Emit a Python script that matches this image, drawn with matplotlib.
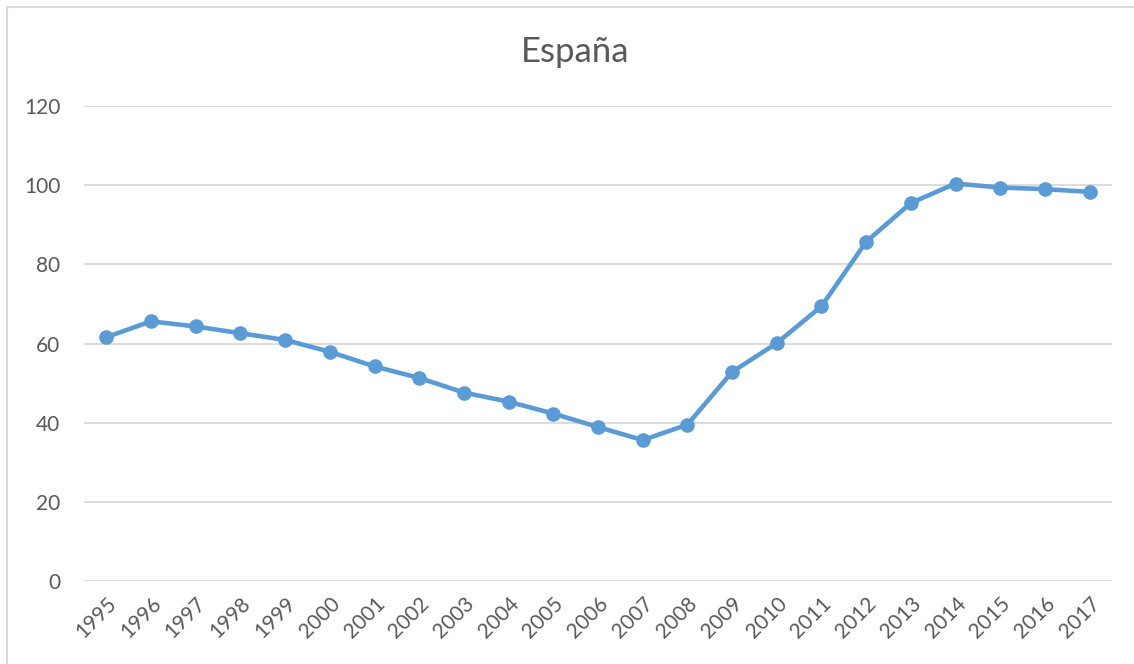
import matplotlib.pyplot as plt
from matplotlib.patches import Rectangle

# Deuda pública (% PIB), España
years = [str(y) for y in range(1995, 2018)]
values = [61.6, 65.6, 64.3, 62.6, 60.9, 57.9, 54.2, 51.3, 47.6, 45.3, 42.3,
          38.9, 35.6, 39.5, 52.8, 60.1, 69.4, 85.7, 95.5, 100.4, 99.4, 99.0, 98.3]
y_ticks = [0, 20, 40, 60, 80, 100, 120]

text_color = '#595959'
line_color = '#5B9BD5'
grid_color = '#D9D9D9'

plt.rcParams['font.family'] = ['Lato', 'DejaVu Sans']

fig = plt.figure(figsize=(11.34, 6.64), dpi=100)
ax = fig.add_axes([84/1134, 1 - 581/664, 1028/1134, 475/664])

# chart border like the Excel frame
fig.patches.append(Rectangle((7/1134, -0.1), 1.2, 1 - 7/664 + 0.1,
                             transform=fig.transFigure, fill=False,
                             edgecolor=grid_color, linewidth=1.5))

x = list(range(len(years)))
ax.plot(x, values, color=line_color, linewidth=3.3, marker='o',
        markersize=9.5, markerfacecolor=line_color, markeredgecolor=line_color)

ax.set_xlim(-0.5, len(years) - 0.5)
ax.set_ylim(0, 120)
ax.set_yticks(y_ticks)
ax.yaxis.grid(True, color=grid_color, linewidth=1.3)
ax.set_axisbelow(True)
for s in ax.spines.values():
    s.set_visible(False)

ax.set_xticks(x)
ax.set_xticklabels(years, rotation=45, ha='right', va='top',
                   rotation_mode='anchor')
ax.tick_params(axis='x', length=0, pad=9, labelsize=15, labelcolor=text_color)
ax.tick_params(axis='y', length=0, pad=17, labelsize=15, labelcolor=text_color)

fig.text(0.507, 1 - 52/664, 'España', ha='center', va='center',
         fontsize=25, color=text_color)

fig.savefig('out.png', dpi=100)
